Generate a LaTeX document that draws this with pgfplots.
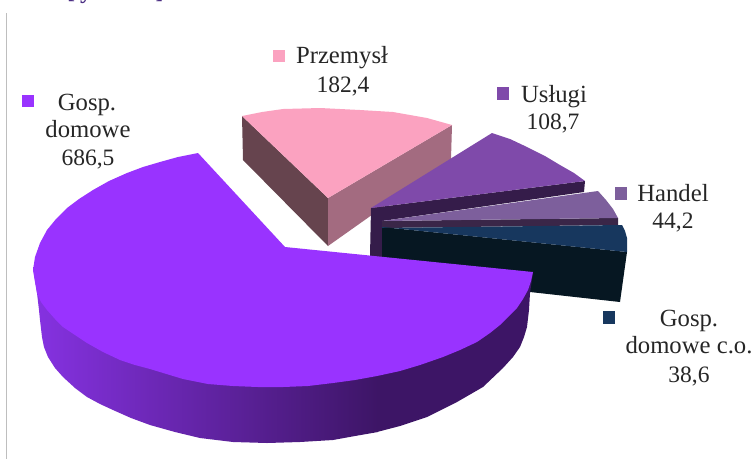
\documentclass[border=0pt]{standalone}
\usepackage{pgfplots}
\pgfplotsset{compat=1.18}
\usepackage{fontspec}
\setmainfont{Liberation Serif}
\definecolor{cMain}{HTML}{9933FF}
\definecolor{cSideL}{HTML}{8632E2}
\definecolor{cSideR}{HTML}{3D1566}
\definecolor{cPink}{HTML}{FBA2C0}
\definecolor{cPinkL}{HTML}{66444E}
\definecolor{cPinkR}{HTML}{A36B80}
\definecolor{cUsl}{HTML}{7F4AAA}
\definecolor{cUslD}{HTML}{351C4A}
\definecolor{cHan}{HTML}{7D5F9C}
\definecolor{cHanD}{HTML}{3A2648}
\definecolor{cCo}{HTML}{17375E}
\definecolor{cCoD}{HTML}{061722}
\definecolor{cTxt}{HTML}{262626}
\definecolor{cTitle}{HTML}{4B2E83}
\begin{document}
\begin{tikzpicture}[x=1pt,y=1pt]
\useasboundingbox (0,0) rectangle (754pt,459pt);
\begin{axis}[
  at={(0,0)},anchor=south west,
  width=754pt,height=459pt,scale only axis,
  xmin=0,xmax=754,ymin=0,ymax=459,y dir=reverse,
  hide axis,clip=false,
  every axis plot/.append style={no markers,draw=none},
]
% frame rule
\addplot[draw={rgb,255:red,190;green,190;blue,190},line width=1pt] coordinates {(6.5,13) (6.5,459)};
% Przemysl
\addplot[fill=cPinkL] coordinates {(242,116) (328,198) (328,246) (243,160)} --cycle;
\addplot[fill=cPinkR] coordinates {(328,198) (452,125) (451,159) (328,246)} --cycle;
\addplot[fill=cPink] coordinates {(242,116) (262,112) (283,109) (320,108) (360,110) (393,112) (427,118) (452,125) (328,198)} --cycle;
% Uslugi
\addplot[fill=cUslD] coordinates {(371,208) (585,181) (584,192) (382,221) (382,258) (370,256)} --cycle;
\addplot[fill=cUsl] coordinates {(371,208) (492,133) (510,139) (527,147) (545,156) (560,165) (574,173) (585,181)} --cycle;
% Handel
\addplot[fill=cHanD] coordinates {(382,221) (618,218) (618,225) (382,228)} --cycle;
\addplot[fill=cHan] coordinates {(382,221) (598,191) (606,200) (613,209) (618,218)} --cycle;
% Gosp. domowe c.o.
\addplot[fill=cCoD] coordinates {(382,227) (627,252) (620,302) (530,292) (382,275)} --cycle;
\addplot[fill=cCo] coordinates {(382,227) (382,228) (622,225) (625,231) (627,238) (627,252)} --cycle;
% Gosp. domowe
\addplot[left color=cSideL,right color=cSideR] coordinates {(33,267) (35,280) (37,293) (39,310) (40,320) (42,337) (44,347) (48,357) (55,368) (63,377) (75,388) (87,397) (100,404) (113,410) (131,418) (150,425) (175,432) (200,438) (233,442) (267,443) (300,442) (333,440) (355,436) (378,432) (378,300)} --cycle;
\addplot[fill=cSideR] coordinates {(377,432) (400,426) (427,417) (457,402) (483,387) (503,368) (513,357) (520,347) (524,337) (527,327) (529,310) (530,293) (533,272) (377,300)} --cycle;
\addplot[fill=cMain] coordinates {(198,153) (178,157) (160,162) (143,167) (127,173) (109,181) (93,190) (79,199) (67,208) (56,219) (47,230) (40,243) (35,257) (33,270) (35,282) (37,293) (41,302) (47,310) (55,319) (63,327) (75,335) (87,343) (103,352) (120,360) (135,365) (150,369) (183,379) (208,384) (233,386) (258,387) (283,387) (308,386) (333,383) (355,380) (377,376) (400,371) (420,365) (443,357) (460,350) (477,342) (490,333) (500,325) (510,315) (517,308) (523,299) (528,290) (531,281) (533,272) (285,247)} --cycle;
% legend keys
\addplot[fill=cMain] coordinates {(22,95) (34,95) (34,107) (22,107)} --cycle;
\addplot[fill=cPink] coordinates {(273,49.5) (285,49.5) (285,62) (273,62)} --cycle;
\addplot[fill=cUsl] coordinates {(497,87) (509,87) (509,100) (497,100)} --cycle;
\addplot[fill=cHan] coordinates {(615,187) (627,187) (627,200) (615,200)} --cycle;
\addplot[fill=cCo] coordinates {(603,311) (615,311) (615,324) (603,324)} --cycle;
% labels
\tikzset{lab/.style={anchor=base,text=cTxt,font=\fontsize{24.7}{29}\selectfont,inner sep=0pt},
  num/.style={anchor=base,text=cTxt,font=\fontsize{23.5}{28}\selectfont,inner sep=0pt}}
\node[lab] at (axis cs:87,110) {Gosp.};
\node[lab] at (axis cs:88,137) {domowe};
\node[num] at (axis cs:88,165) {686,5};
\node[lab] at (axis cs:342,63) {Przemysł};
\node[num] at (axis cs:343,92) {182,4};
\node[lab] at (axis cs:554,102) {Usługi};
\node[num] at (axis cs:553,129) {108,7};
\node[lab] at (axis cs:673,201) {Handel};
\node[num] at (axis cs:673,228) {44,2};
\node[lab] at (axis cs:689,326) {Gosp.};
\node[lab] at (axis cs:689,353) {domowe c.o.};
\node[num] at (axis cs:689,382) {38,6};
% cut-off title
\tikzset{ttl/.style={overlay,anchor=base,text=cTitle,font=\bfseries\fontsize{24}{28}\selectfont,inner sep=0pt}}
\node[ttl] at (axis cs:71,-1.5) {[};
\node[ttl] at (axis cs:86,-1.5) {y};
\node[ttl] at (axis cs:159.5,-1.5) {]};
\end{axis}
\end{tikzpicture}
\end{document}
